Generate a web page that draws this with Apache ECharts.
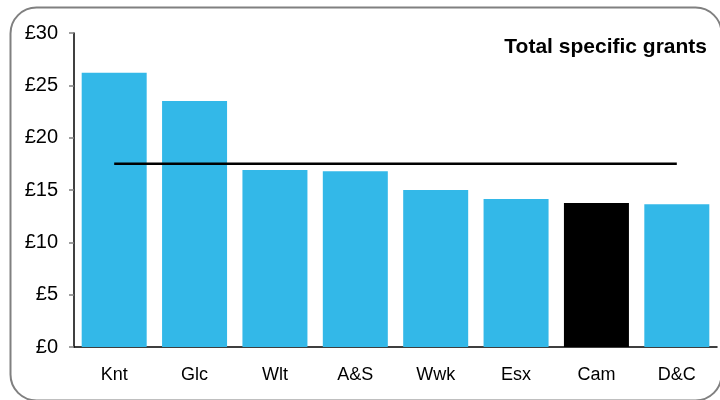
<!DOCTYPE html>
<html><head><meta charset="utf-8">
<script src="https://cdn.jsdelivr.net/npm/echarts@6/dist/echarts.min.js"></script>
<style>html,body{margin:0;padding:0;background:#fff}#c{width:720px;height:400px}</style>
</head><body><div id="c"></div>
<script>
var categories = ["Knt","Glc","Wlt","A&S","Wwk","Esx","Cam","D&C"];
var grants = [26.2, 23.5, 16.9, 16.8, 15.0, 14.15, 13.75, 13.65];
var averageValue = 17.5;
var highlightCategory = "Cam";
var yTicks = [0, 5, 10, 15, 20, 25, 30];

var chart = echarts.init(document.getElementById('c'), null, {renderer:'canvas'});
var barData = grants.map(function(v, i){
  return {value: v, itemStyle: {color: categories[i] === highlightCategory ? '#000000' : '#33b8e8'}};
});
var avgData = categories.map(function(){ return averageValue; });
chart.setOption({
  animation: false,
  backgroundColor: '#ffffff',
  graphic: [{
    type: 'rect', left: 8, top: 5,
    shape: {x: 0, y: 0, width: 711, height: 393, r: 26},
    style: {fill: 'none', stroke: '#808080', lineWidth: 2}, z: 100
  }],
  title: {
    text: 'Total specific grants', right: 8, top: 32,
    textStyle: {fontFamily: 'Liberation Sans, Arial', fontWeight: 'bold', fontSize: 21, color: '#000'}
  },
  grid: {left: 74, right: 3, top: 33, bottom: 53},
  xAxis: {
    type: 'category', data: categories,
    axisLine: {lineStyle: {color: '#000', width: 1.5}},
    axisTick: {show: false},
    axisLabel: {fontFamily: 'Liberation Sans, Arial', fontSize: 18, color: '#000', margin: 19}
  },
  yAxis: {
    type: 'value', min: yTicks[0], max: yTicks[yTicks.length-1], interval: 5,
    axisLine: {show: true, lineStyle: {color: '#000', width: 1.5}},
    axisTick: {show: true, length: 5, lineStyle: {color: '#808080', width: 1.5}},
    splitLine: {show: false},
    axisLabel: {fontFamily: 'Liberation Sans, Arial', fontSize: 20, color: '#000', margin: 16,
      formatter: function(v){ return '£' + v; }}
  },
  series: [
    {type: 'bar', data: barData, barWidth: 65},
    {type: 'line', data: avgData, symbol: 'none',
     lineStyle: {color: '#000', width: 2.5}, z: 5}
  ]
});
</script></body></html>
